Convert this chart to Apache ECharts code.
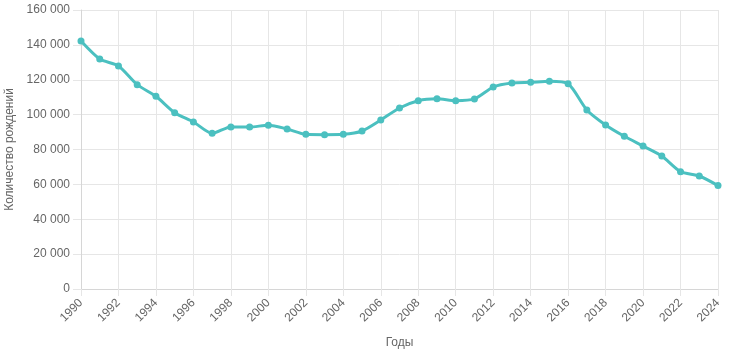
<!DOCTYPE html>
<html>
<head>
<meta charset="utf-8">
<script src="https://cdn.jsdelivr.net/npm/echarts@6/dist/echarts.min.js"></script>
<style>
html,body{margin:0;padding:0;background:#fff;}
#chart{width:732px;height:356px;}
</style>
</head>
<body>
<div id="chart"></div>
<script>
const years = ['1990','1991','1992','1993','1994','1995','1996','1997','1998','1999','2000','2001','2002','2003','2004','2005','2006','2007','2008','2009','2010','2011','2012','2013','2014','2015','2016','2017','2018','2019','2020','2021','2022','2023','2024'];
const births = [142200,131900,127900,117200,110500,101100,95800,89300,92900,92900,93900,91800,88700,88500,88700,90600,96900,103800,108000,109100,108000,109000,115800,118100,118500,119100,117700,102700,94100,87600,82000,76300,67300,64800,59300];
const xAxisTitle = 'Годы';
const yAxisTitle = 'Количество рождений';

const chart = echarts.init(document.getElementById('chart'));
const gridColor = '#e6e6e6';
const textColor = '#666';
const font = 'Liberation Sans, Arial, Helvetica, sans-serif';
chart.setOption({
  animation: false,
  grid: {left: 81, right: 14, top: 10, bottom: 67, containLabel: false, outerBoundsMode: 'none'},
  xAxis: {
    type: 'category',
    data: years,
    boundaryGap: false,
    name: xAxisTitle,
    nameLocation: 'middle',
    nameGap: 48,
    nameTextStyle: {color: textColor, fontSize: 12, fontFamily: font},
    axisLine: {lineStyle: {color: '#d6d6d6'}},
    axisTick: {show: true, interval: 1, length: 7, lineStyle: {color: gridColor}},
    axisLabel: {interval: 1, rotate: 45, color: textColor, fontSize: 12, fontFamily: font, margin: 12},
    splitLine: {show: true, interval: 1, lineStyle: {color: gridColor}}
  },
  yAxis: {
    type: 'value',
    min: 0, max: 160000, interval: 20000,
    name: yAxisTitle,
    nameLocation: 'middle',
    nameGap: 60,
    nameTextStyle: {color: textColor, fontSize: 12, fontFamily: font},
    axisLine: {show: true, lineStyle: {color: '#d6d6d6'}},
    axisTick: {show: true, length: 8, lineStyle: {color: gridColor}},
    axisLabel: {color: textColor, fontSize: 12, fontFamily: font, margin: 11,
      formatter: v => String(v).replace(/\B(?=(\d{3})+(?!\d))/g, ' ')},
    splitLine: {show: true, lineStyle: {color: gridColor}}
  },
  series: [{
    type: 'line',
    data: births,
    smooth: 0.25,
    symbol: 'circle',
    symbolSize: 7,
    lineStyle: {color: '#4bc0c0', width: 3},
    itemStyle: {color: '#4bc0c0'}
  }]
});
</script>
</body>
</html>
